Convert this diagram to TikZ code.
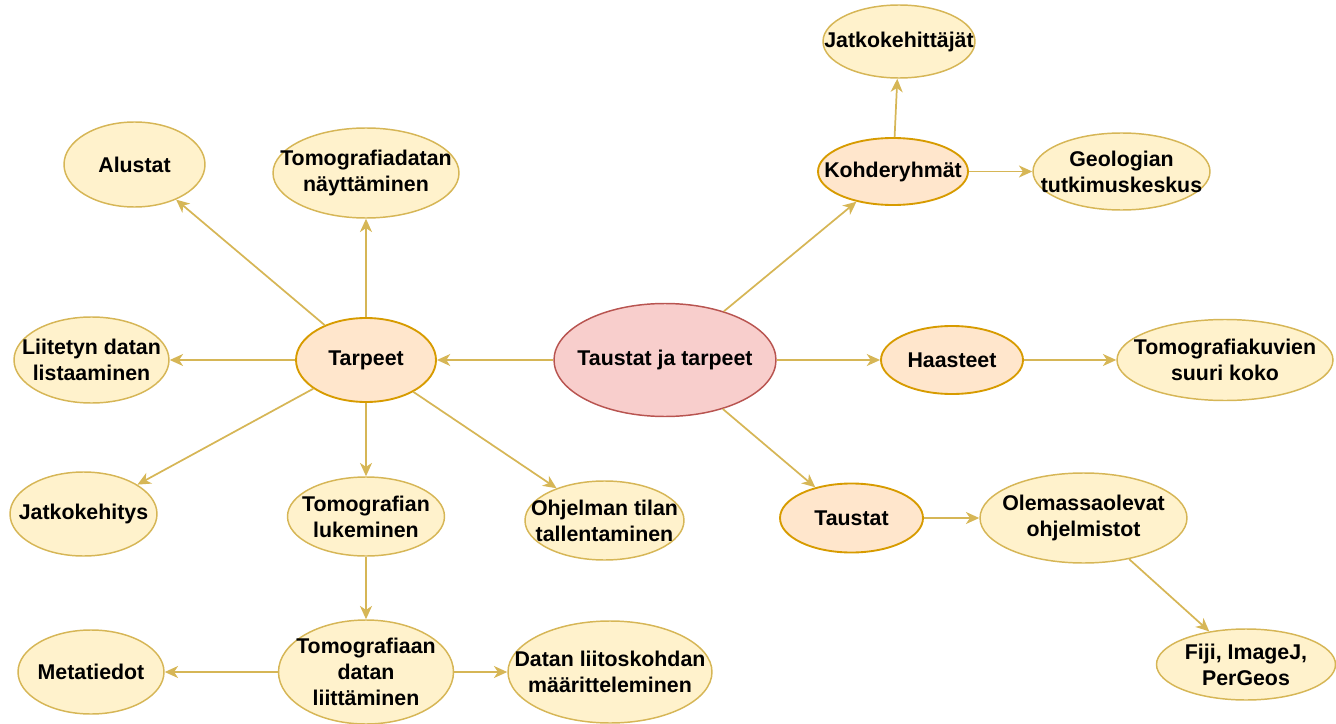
\documentclass[tikz,border=0pt]{standalone}
\usepackage{fontspec}
\setmainfont{Liberation Sans}
\usetikzlibrary{shapes.geometric,arrows.meta}

\definecolor{keltatausta}{HTML}{FFF2CC}
\definecolor{keltaviiva}{HTML}{D6B656}
\definecolor{oranssitausta}{HTML}{FFE6CC}
\definecolor{oranssiviiva}{HTML}{D79B00}
\definecolor{punatausta}{HTML}{F8CECC}
\definecolor{punaviiva}{HTML}{B85450}

\tikzset{
	solmu/.style={ellipse, draw=keltaviiva, fill=keltatausta, line width=1.1pt,
		inner sep=-40pt, align=center, text=black,
		font=\fontsize{16}{19.5}\selectfont\bfseries},
	aihe/.style={solmu, draw=oranssiviiva, fill=oranssitausta, line width=1.4pt},
	juuri/.style={solmu, draw=punaviiva, fill=punatausta},
	koko/.style 2 args={minimum width=#1*0.75pt, minimum height=#2*0.75pt},
	nuoli/.style={draw=keltaviiva, line width=1.3pt,
		-{Stealth[length=10pt,width=9pt,inset=3pt]}}
}

\begin{document}
\begin{tikzpicture}[x=0.75pt,y=-0.75pt]
			\useasboundingbox (0,0) rectangle (1336,724);
			% Solmut
			\node[juuri, koko={222}{113}] (tt) at (665,360) {Taustat ja tarpeet};
	
			\node[aihe, koko={140}{84}] (tarpeet) at (366,360) {Tarpeet};
			\node[solmu, koko={141}{85}] (alustat) at (134.5,164.5) {Alustat};
			\node[solmu, koko={186}{90}] (nayttaminen) at (366,173) {Tomografiadatan\\näyttäminen};
			\node[solmu, koko={155}{86}] (listaaminen) at (91.5,360) {Liitetyn datan\\listaaminen};
			\node[solmu, koko={147}{84}] (jatkokehitys) at (83.5,514) {Jatkokehitys};
			\node[solmu, koko={157}{79}] (lukeminen) at (366,516.5) {Tomografian\\lukeminen};
			\node[solmu, koko={159}{79}] (tallentaminen) at (604.5,520.5) {Ohjelman tilan\\tallentaminen};
	
			\node[solmu, koko={175}{104}] (liittaminen) at (366,672) {Tomografiaan\\datan\\liittäminen};
			\node[solmu, koko={146}{84}] (metatiedot) at (91,672) {Metatiedot};
			\node[solmu, koko={204}{102}] (liitoskohta) at (610,672) {Datan liitoskohdan\\määritteleminen};
	
			\node[aihe, koko={150}{67}] (kohderyhmat) at (893,171.5) {Kohderyhmät};
			\node[solmu, koko={152}{73}] (jatkokehittajat) at (899,41.5) {Jatkokehittäjät};
			\node[solmu, koko={177}{77}] (geologian) at (1121.5,171.5) {Geologian\\tutkimuskeskus};
	
			\node[aihe, koko={142}{68}] (haasteet) at (952,360) {Haasteet};
			\node[solmu, koko={216}{81}] (kuvakoko) at (1225,360) {Tomografiakuvien\\suuri koko};
	
			\node[aihe, koko={143}{69}] (taustat) at (851.5,518) {Taustat};
			\node[solmu, koko={207}{90}] (olemassa) at (1083.5,518) {Olemassaolevat\\ohjelmistot};
			\node[solmu, koko={179}{71}] (fiji) at (1246,664.5) {Fiji, ImageJ,\\PerGeos};
	
			% Yhteydet
			\draw[nuoli] (tt) -- (tarpeet);
			\draw[nuoli] (tt) -- (kohderyhmat);
			\draw[nuoli] (tt) -- (haasteet);
			\draw[nuoli] (tt) -- (taustat);
	
			\draw[nuoli] (tarpeet) -- (alustat);
			\draw[nuoli] (tarpeet) -- (nayttaminen);
			\draw[nuoli] (tarpeet) -- (listaaminen);
			\draw[nuoli] (tarpeet) -- (jatkokehitys);
			\draw[nuoli] (tarpeet) -- (lukeminen);
			\draw[nuoli] (tarpeet) -- (tallentaminen);
	
			\draw[nuoli] (lukeminen) -- (liittaminen);
			\draw[nuoli] (liittaminen) -- (metatiedot);
			\draw[nuoli] (liittaminen) -- (liitoskohta);
	
			\draw[nuoli] (kohderyhmat) -- (jatkokehittajat);
			\draw[nuoli] (kohderyhmat) -- (geologian);
			\draw[nuoli] (haasteet) -- (kuvakoko);
			\draw[nuoli] (taustat) -- (olemassa);
			\draw[nuoli] (olemassa) -- (fiji);

		\end{tikzpicture}
\end{document}
